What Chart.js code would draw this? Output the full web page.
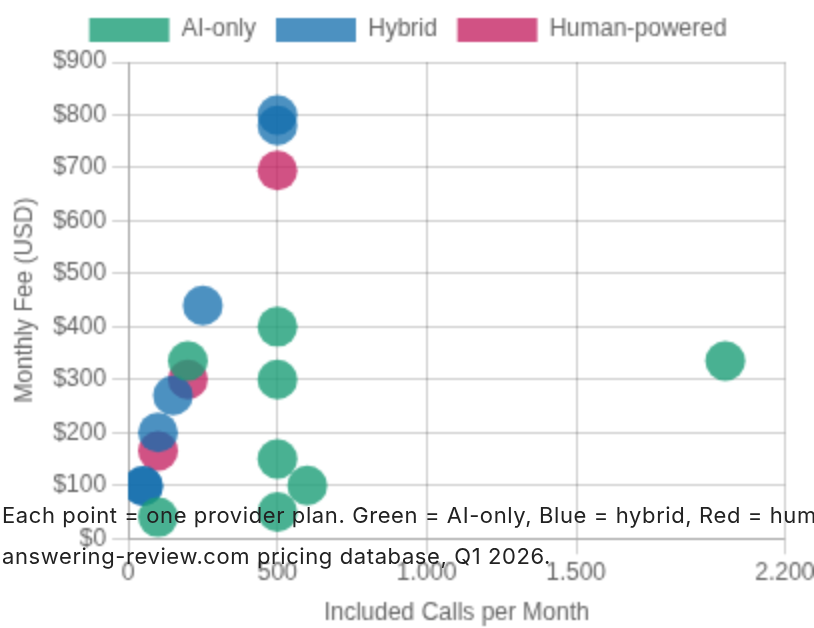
<!DOCTYPE html>
<html>
<head>
<meta charset="utf-8">
<title>Monthly fee vs included calls</title>
<script src="https://cdn.jsdelivr.net/npm/chart.js@4.4.1/dist/chart.umd.min.js"></script>
<style>
  html, body { margin: 0; padding: 0; background: #fff; width: 814px; height: 628px; overflow: hidden; }
  /* chart is drawn at half size and blown up 2x, like the original */
  #wrap { position: absolute; left: 0; top: 0; width: 407px; height: 318px; transform: scale(2); transform-origin: 0 0; }
  .note { position: absolute; left: 2px; margin: 0; white-space: nowrap; font-family: Inter, 'Noto Sans', sans-serif; font-size: 22px; line-height: 26px; letter-spacing: 0.6px; color: #222; }
</style>
</head>
<body>
<div id="wrap"><canvas id="fees" width="407" height="318"></canvas></div>
<p class="note" style="top:502px">Each point = one provider plan. Green = AI-only, Blue = hybrid, Red = human-powered.</p>
<p class="note" style="top:543px">answering-review.com pricing database, Q1 2026.</p>

<script>
/* ── Data (calls per month, monthly fee in USD) ── */
const GROUPS       = ['AI-only', 'Hybrid', 'Human-powered'];
const AI_CALLS     = [500, 200, 500, 500, 600, 100, 500, 2000];
const AI_FEES      = [400, 335, 300, 150, 100, 40, 50, 335];
const HYBRID_CALLS = [500, 500, 250, 150, 100, 50, 50];
const HYBRID_FEES  = [800, 780, 440, 270, 200, 99, 99];
const HUMAN_CALLS  = [500, 200, 100];
const HUMAN_FEES   = [695, 300, 165];
const X_MAX = 2200;
const Y_MAX = 900;

const COLORS = [
  'rgba(27,158,119,0.8)',
  'rgba(16,108,172,0.75)',
  'rgba(194,24,91,0.75)',
];
const GRID = 'rgba(0,0,0,0.18)';

function pts(xs, ys) {
  return xs.map((x, i) => ({ x: x, y: ys[i] }));
}

const SERIES = [pts(AI_CALLS, AI_FEES), pts(HYBRID_CALLS, HYBRID_FEES), pts(HUMAN_CALLS, HUMAN_FEES)];

new Chart(document.getElementById('fees'), {
  type: 'scatter',
  data: {
    datasets: SERIES.map((data, i) => ({
      label:            GROUPS[i],
      data:             data,
      backgroundColor:  COLORS[i],
      borderColor:      COLORS[i],
      borderWidth:      0,
      pointRadius:      10,
      pointHoverRadius: 10,
    })),
  },
  options: {
    responsive: false,
    animation:  false,
    devicePixelRatio: 1,
    locale: 'de-DE',
    layout: { padding: { top: -1, left: 1 } },
    plugins: {
      legend:  { position: 'top' },
      tooltip: { enabled: false },
    },
    scales: {
      x: {
        type: 'linear',
        min: 0,
        max: X_MAX,
        grid:   { color: GRID },
        border: { color: GRID },
        ticks:  { padding: 2 },
        title:  { display: true, text: 'Included Calls per Month' },
        // last label may hang a bit past the plot edge
        afterFit: s => { s.paddingRight = 14.5; },
      },
      y: {
        min: 0,
        max: Y_MAX,
        grid:   { color: GRID },
        border: { color: GRID },
        ticks:  { stepSize: 100, callback: v => '$' + v },
        title:  { display: true, text: 'Monthly Fee (USD)' },
      },
    },
  },
});
</script>
</body>
</html>
